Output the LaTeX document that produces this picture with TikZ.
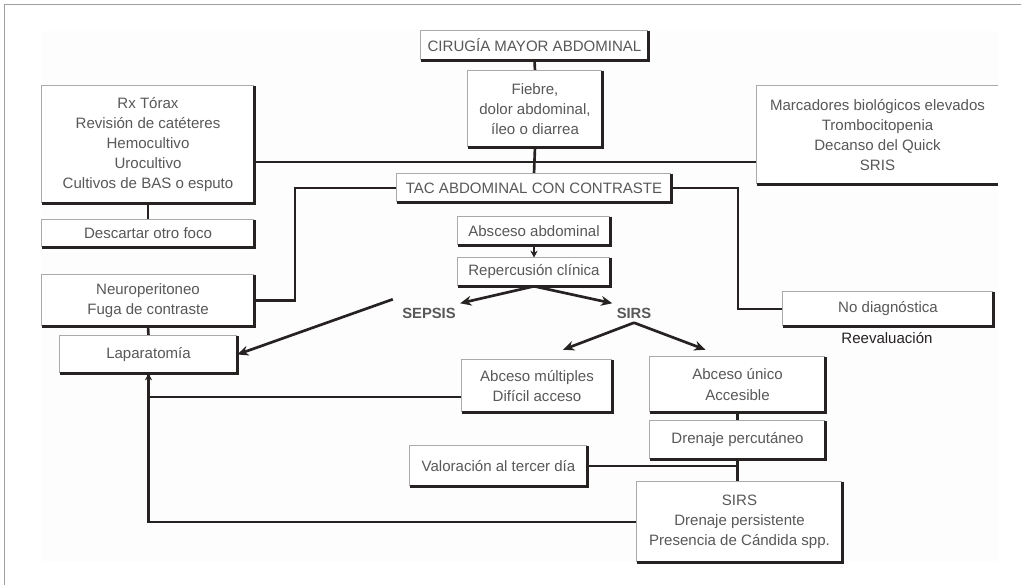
\documentclass[tikz,border=0pt]{standalone}
\usepackage{fontspec}
\setmainfont{Liberation Sans}
\usepackage{tikz}
\usetikzlibrary{arrows.meta,calc}
\definecolor{edge}{RGB}{38,34,34}
\definecolor{rim}{RGB}{170,170,170}
\definecolor{ink}{RGB}{88,88,88}
\definecolor{paper}{RGB}{253,253,253}
\newcommand{\pxu}{0.025cm}
\newcommand{\drawthick}{\draw[line width=2pt,edge]}
\newcommand{\drawthin}{\draw[line width=0.6pt,rim]}
\tikzset{
  cell/.style 2 args={align=center, text=ink, fill=white, inner sep=0pt,
    minimum width=#1*\pxu, minimum height=#2*\pxu},
  lbl/.style={text=ink, font=\fontsize{10.5}{13}\selectfont\bfseries, inner sep=3pt},
  link/.style={line width=1.9pt, edge},
  tip/.style={link, -{Stealth[length=8pt,width=7pt]}},
  smalltip/.style={link, -{Stealth[length=5pt,width=5pt]}}
}

\begin{document}
\begin{tikzpicture}[x=\pxu, y=-\pxu, font=\fontsize{10.7}{14.3}\selectfont]
\useasboundingbox (0,0) rectangle (1021,585);
\fill[white] (0,0) rectangle (1021,585);
\fill[paper] (42,31) rectangle (998,562);
\draw[line width=1.2pt,gray!75] (4.5,585) -- (4.5,4.5) -- (1021,4.5);

\node[cell={227}{29}] (cir) at (534.5,45.5) {CIRUGÍA MAYOR ABDOMINAL};
\node[cell={134}{76}] (fie) at (535,109) {Fiebre,\\dolor abdominal,\\íleo o diarrea};
\node[cell={212}{117}] (rx) at (148,144.5) {Rx Tórax\\Revisión de catéteres\\Hemocultivo\\Urocultivo\\Cultivos de BAS o esputo};
\node[cell={241}{98}] (mar) at (877.5,135) {Marcadores biológicos elevados\\Trombocitopenia\\Decanso del Quick\\SRIS};
\node[cell={274}{28}] (tac) at (534,188) {TAC ABDOMINAL CON CONTRASTE};
\node[cell={212}{27}] (des) at (148,233.5) {Descartar otro foco};
\node[cell={152}{28}] (abs) at (534,231) {Absceso abdominal};
\node[cell={152}{28}] (rep) at (534,272) {Repercusión clínica};
\node[cell={212}{51}] (neu) at (148,300.5) {Neuroperitoneo\\Fuga de contraste};
\node[cell={210}{34}] (nod) at (888,309) {No diagnóstica};
\node[text=edge] (ree) at (887,338) {Reevaluación};
\node[cell={177}{37}] (lap) at (148.5,354.5) {Laparatomía};
\node[lbl] (sepsis) at (429,313) {SEPSIS};
\node[lbl] (sirs) at (634,313) {SIRS};
\node[cell={150}{52}] (mul) at (537,386) {Abceso múltiples\\Difícil acceso};
\node[cell={175}{55}] (uni) at (737.5,384.5) {Abceso único\\Accesible};
\node[cell={175}{38}] (dre) at (737.5,440) {Drenaje percutáneo};
\node[cell={177}{40}] (val) at (498.5,466) {Valoración al tercer día};
\node[cell={205}{80}] (srs) at (739.5,522) {SIRS\\Drenaje persistente\\Presencia de Cándida spp.};

\coordinate (hub) at (536,162);
\draw[link] (cir.south) -- (fie.north);
\draw[link] (fie.south) -- (tac.north);
\draw[link] (rx.east |- hub) -- (mar.west |- hub);
\draw[link] (rx.south) -- (des.north);
\draw[link] (tac.west) -| (295,300.5) -- (neu.east);
\draw[link] (tac.east) -| (738,309) -- (nod.west);
\draw[link] (neu.south) -- (lap.north);
\draw[smalltip] (abs.south) -- (rep.north);
\draw[tip] (rep.south) -- (sepsis.north east);
\draw[tip] (rep.south) -- (sirs.north west);
\draw[tip] ($(sepsis.north west)+(-5,-4)$) -- (lap.east);
\draw[tip] (sirs.south) -- ($(mul.north)+(26,-10)$);
\draw[tip] (sirs.south) -- ($(uni.north)+(-32,-7)$);
\draw[link] (uni.south) -- (dre.north);
\draw[link] (dre.south) -- (dre.south |- srs.north);
\draw[link] (val.east) -- (val.east -| dre.south);
\draw[link] ([yshift=-0.275cm]mul.west) -| (lap.south);
\draw[smalltip] (srs.west) -| (lap.south);

\foreach \n in {cir,fie,rx,tac,des,abs,rep,neu,nod,lap,mul,uni,dre,val,srs}{
  \drawthin (\n.south west) |- (\n.north east);
  \drawthick (\n.north east) |- (\n.south west);
}
\drawthin (mar.south west) |- (mar.north east);
\drawthick (mar.south west) -- (mar.south east);
\end{tikzpicture}
\end{document}
